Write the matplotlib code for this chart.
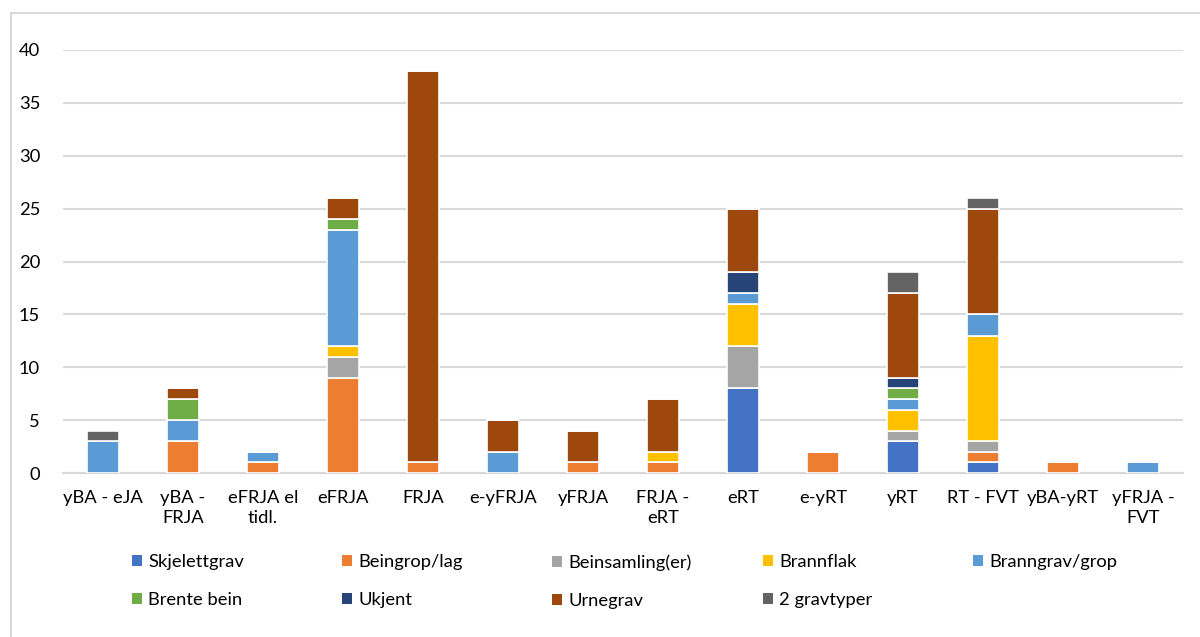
import numpy as np
import matplotlib
matplotlib.use("Agg")
import matplotlib.pyplot as plt
from matplotlib.patches import Rectangle, Patch

plt.rcParams['font.family'] = ['Lato', 'DejaVu Sans']

categories = ["yBA - eJA", "yBA -\nFRJA", "eFRJA el\ntidl.", "eFRJA", "FRJA", "e-yFRJA",
              "yFRJA", "FRJA -\neRT", "eRT", "e-yRT", "yRT", "RT - FVT", "yBA-yRT",
              "yFRJA -\nFVT"]

skjelettgrav = [0, 0, 0, 0, 0, 0, 0, 0, 8, 0, 3, 1, 0, 0]
beingrop     = [0, 3, 1, 9, 1, 0, 1, 1, 0, 2, 0, 1, 1, 0]
beinsamling  = [0, 0, 0, 2, 0, 0, 0, 0, 4, 0, 1, 1, 0, 0]
brannflak    = [0, 0, 0, 1, 0, 0, 0, 1, 4, 0, 2, 10, 0, 0]
branngrav    = [3, 2, 1, 11, 0, 2, 0, 0, 1, 0, 1, 2, 0, 1]
brente_bein  = [0, 2, 0, 1, 0, 0, 0, 0, 0, 0, 1, 0, 0, 0]
ukjent       = [0, 0, 0, 0, 0, 0, 0, 0, 2, 0, 1, 0, 0, 0]
urnegrav     = [0, 1, 0, 2, 37, 3, 3, 5, 6, 0, 8, 10, 0, 0]
to_gravtyper = [1, 0, 0, 0, 0, 0, 0, 0, 0, 0, 2, 1, 0, 0]

series = [
    ("Skjelettgrav", skjelettgrav, "#4472C4"),
    ("Beingrop/lag", beingrop, "#ED7D31"),
    ("Beinsamling(er)", beinsamling, "#A5A5A5"),
    ("Brannflak", brannflak, "#FFC000"),
    ("Branngrav/grop", branngrav, "#5B9BD5"),
    ("Brente bein", brente_bein, "#70AD47"),
    ("Ukjent", ukjent, "#264478"),
    ("Urnegrav", urnegrav, "#9E480E"),
    ("2 gravtyper", to_gravtyper, "#636363"),
]

fs = 13.2

fig = plt.figure(figsize=(12, 6.37), dpi=100)
ax = fig.add_axes([63 / 1200, 1 - 473 / 637, 1120 / 1200, 423 / 637])

x = np.arange(len(categories))
bottom = np.zeros(len(categories))
for name, vals, col in series:
    vals = np.array(vals, dtype=float)
    ax.bar(x, vals, 0.39, bottom=bottom, color=col, edgecolor="white",
           linewidth=1.2, label=name, zorder=3)
    bottom += vals

ax.set_xlim(-0.5, len(categories) - 0.5)
ax.set_ylim(0, 40)
ax.set_yticks(range(0, 41, 5))
ax.set_xticks(x)
ax.set_xticklabels(categories, fontsize=fs, linespacing=1.35)
ax.tick_params(axis="y", labelsize=fs, length=0, pad=16.5)
ax.tick_params(axis="x", length=0, pad=12)
ax.grid(axis="y", color="#D9D9D9", linewidth=1.5, zorder=0)
for s in ["top", "right", "left"]:
    ax.spines[s].set_visible(False)
ax.spines["bottom"].set_color("#D9D9D9")
ax.spines["bottom"].set_linewidth(1.5)

# legend: five evenly spaced columns, rows filled left to right
col_x = [132, 342, 552, 763, 973]
for i in range(5):
    idx = [i, i + 5] if i + 5 < len(series) else [i]
    handles = [Patch(facecolor=series[j][2]) for j in idx]
    labels = [series[j][0] for j in idx]
    fig.legend(handles, labels, loc="upper left",
               bbox_to_anchor=(col_x[i] / 1200, 1 - 554 / 637),
               frameon=False, fontsize=fs, handlelength=0.55, handleheight=0.55,
               handletextpad=0.33, labelspacing=1.22, borderpad=0, borderaxespad=0)

# chart frame
fig.patches.append(Rectangle((11 / 1200, -0.1), 1.2, 1 - 13 / 637 + 0.1,
                             transform=fig.transFigure, fill=False,
                             edgecolor="#D9D9D9", linewidth=1.5))

fig.savefig("out.png", dpi=100)
